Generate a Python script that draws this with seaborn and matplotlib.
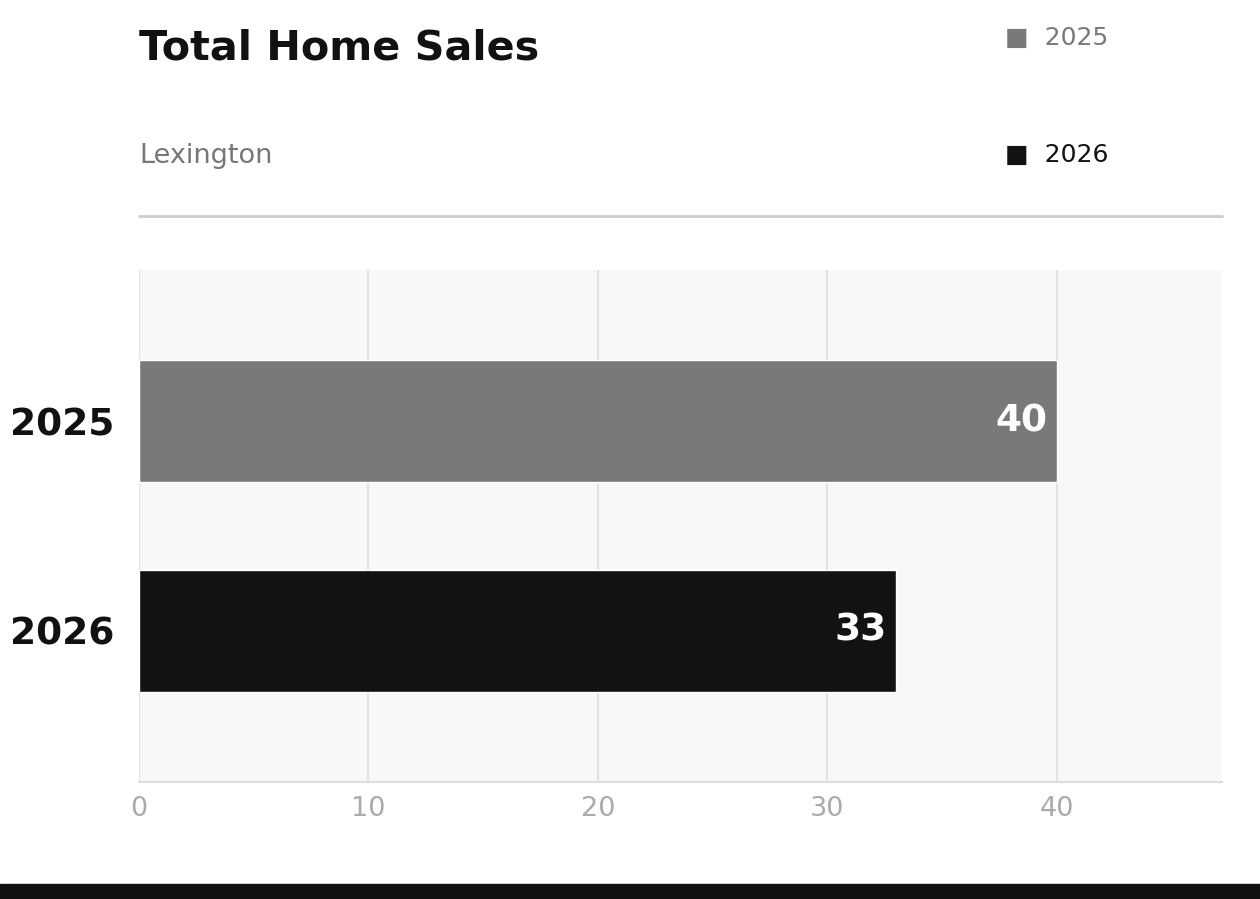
import matplotlib
matplotlib.use("Agg")
import matplotlib.pyplot as plt
import seaborn as sns
import pandas as pd

# data
years = ["2025", "2026"]
sales = [40, 33]
bar_colors = ["#797979", "#121212"]

title = "Total Home Sales"
subtitle = "Lexington"

df = pd.DataFrame({"Year": years, "Sales": sales})
palette = dict(zip(years, bar_colors))

sns.set_style("white")
plt.rcParams["font.family"] = ["DejaVu Sans"]

fig = plt.figure(figsize=(12.6, 8.99), dpi=100)
ax = fig.add_axes([139 / 1260, 117 / 899, 1083 / 1260, 512 / 899])

sns.barplot(df, x="Sales", y="Year", hue="Year", palette=palette,
            orient="h", dodge=False, legend=False, width=0.58,
            saturation=1, ax=ax)

ax.set_facecolor("#f8f8f8")
ax.set_xlim(0, max(sales) * 1.18)
ax.set_ylim(1.72, -0.72)
ax.set_xticks([0, 10, 20, 30, 40])
ax.grid(axis="x", color="#e2e2e2", linewidth=1.5)
ax.grid(axis="y", visible=False)
ax.set_axisbelow(True)
for side in ["top", "right", "left"]:
    ax.spines[side].set_visible(False)
ax.spines["bottom"].set_color("#dddddd")
ax.spines["bottom"].set_linewidth(1.5)
ax.set_xlabel("")
ax.set_ylabel("")
ax.tick_params(axis="x", length=0, pad=10, labelsize=19.5, labelcolor="#aaaaaa")
ax.tick_params(axis="y", length=0, pad=18, labelsize=27, labelcolor="#111111")
for lbl in ax.get_yticklabels():
    lbl.set_fontweight("bold")

# value labels inside bar ends
for i, v in enumerate(sales):
    ax.annotate(f"{v}", xy=(v, i), xytext=(-7, 0), textcoords="offset points",
                ha="right", va="center", color="white", fontsize=27,
                fontweight="bold")

# header
fig.text(139 / 1260, 1 - 48 / 899, title, ha="left", va="center",
         fontsize=29.8, fontweight="bold", color="#111111")
fig.text(139 / 1260, 1 - 156 / 899, subtitle, ha="left", va="center",
         fontsize=19.5, color="#777777")
leg_y = [38, 155]
for yr, col, y in zip(years, bar_colors, leg_y):
    fig.text(1005 / 1260, 1 - y / 899, "\u25A0  " + yr, ha="left", va="center",
             fontsize=18, color=col)

# separator line and bottom band
fig.add_artist(plt.Line2D([139 / 1260, 1222 / 1260], [1 - 216 / 899] * 2,
                          color="#cccccc", linewidth=2, transform=fig.transFigure))
fig.add_artist(plt.Rectangle((0, 0), 1, 15 / 899, color="#111111",
                             transform=fig.transFigure))

fig.savefig("out.png", dpi=100)
